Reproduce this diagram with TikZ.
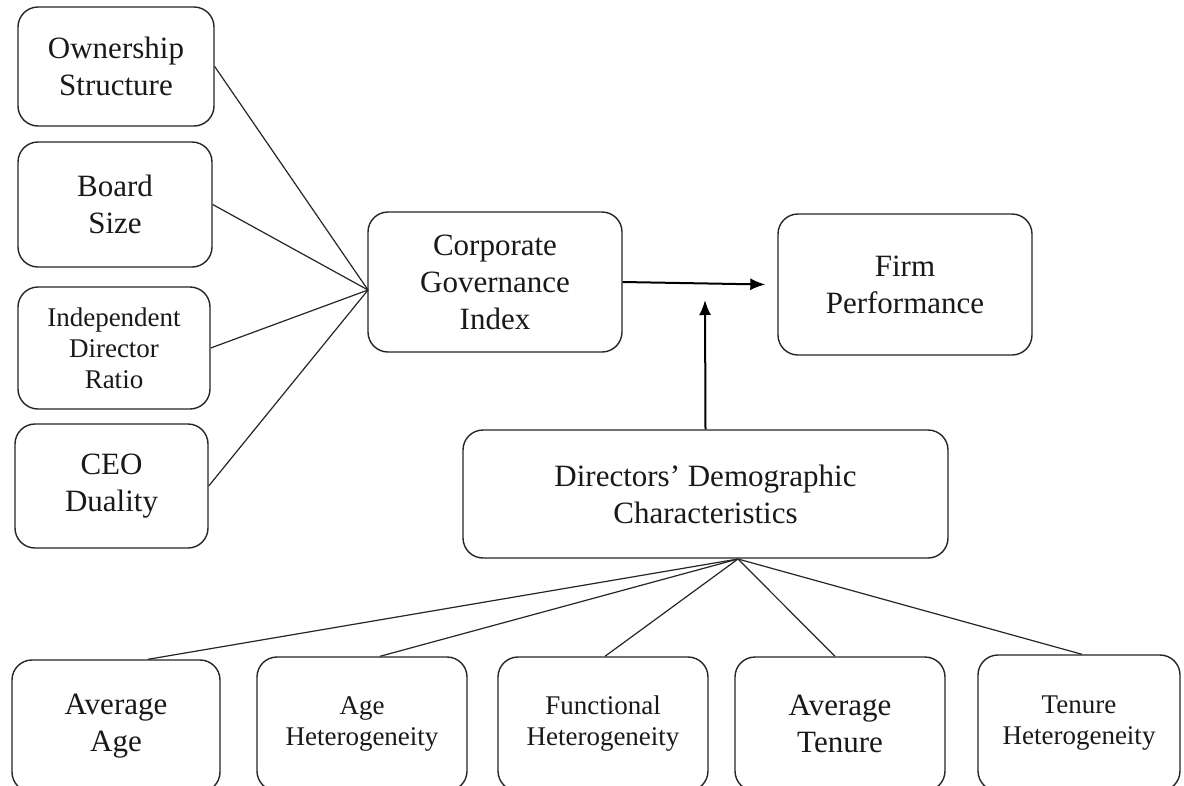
\documentclass[tikz,border=0pt]{standalone}
\usepackage{fontspec}
\setmainfont{Liberation Serif}
\usetikzlibrary{arrows.meta,calc}
\tikzset{
  box/.style={draw=black!85, line width=1.4pt, rounded corners=20pt, align=center,
    inner sep=0pt, text=black!90, font=\fontsize{31}{37}\selectfont},
  smallbox/.style={box, font=\fontsize{27}{31}\selectfont},
  link/.style={draw=black!85, line width=1.2pt},
  arr/.style={draw=black, line width=2pt, -{Latex[length=15pt,width=12pt]}}
}
\begin{document}
\begin{tikzpicture}[x=1pt,y=-1pt]
\useasboundingbox (0,0) rectangle (1184,785);
\clip (0,0) rectangle (1184,785);
\fill[white] (0,0) rectangle (1184,785);
% left column
\node[box, minimum width=196pt, minimum height=119pt] (own) at (116,66.5) {Ownership\\Structure};
\node[box, minimum width=194pt, minimum height=125pt] (bs) at (115,204.5) {Board\\Size};
\node[smallbox, minimum width=192pt, minimum height=122pt] (idr) at (114,348) {Independent\\Director\\Ratio};
\node[box, minimum width=193pt, minimum height=124pt] (ceo) at (111.5,486) {CEO\\Duality};
% middle
\node[box, minimum width=254pt, minimum height=140pt] (cg) at (495,282) {Corporate\\Governance\\Index};
\node[box, minimum width=254pt, minimum height=141pt] (fp) at (905,284.5) {Firm\\Performance};
\node[box, minimum width=485pt, minimum height=128pt] (dd) at (705.5,494) {Directors’ Demographic\\Characteristics};
% bottom row
\node[box, minimum width=208pt, minimum height=132pt] (aa) at (116,726) {Average\\Age};
\node[smallbox, minimum width=210pt, minimum height=134pt] (ah) at (362,724) {Age\\Heterogeneity};
\node[smallbox, minimum width=210pt, minimum height=134pt] (fh) at (603,724) {Functional\\Heterogeneity};
\node[box, minimum width=210pt, minimum height=134pt] (at) at (840,724) {Average\\Tenure};
\node[smallbox, minimum width=202pt, minimum height=136pt] (th) at (1079,723) {Tenure\\Heterogeneity};
% junction points
\coordinate (cgin) at (368,290);
\coordinate (ddout) at (738,559);
\coordinate (mid) at (705,300);
% connectors to corporate governance
\draw[link] (own.east) -- (cgin);
\draw[link] (bs.east) -- (cgin);
\draw[link] (idr.east) -- (cgin);
\draw[link] (ceo.east) -- (cgin);
% connectors to demographic characteristics
\draw[link] ([xshift=32pt]aa.north) -- (ddout);
\draw[link] ([xshift=18pt]ah.north) -- (ddout);
\draw[link] ([xshift=2pt]fh.north) -- (ddout);
\draw[link] ([xshift=-5pt]at.north) -- (ddout);
\draw[link] ([xshift=3pt]th.north) -- (ddout);
% arrows
\draw[arr] (cg.east) -- ([xshift=-12pt]fp.west);
\draw[arr] (dd.north) -- (mid);
\end{tikzpicture}
\end{document}
